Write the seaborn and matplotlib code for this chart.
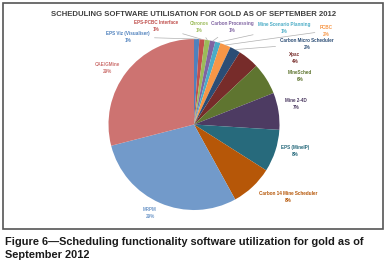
import matplotlib
matplotlib.use("Agg")
from matplotlib import pyplot as plt
from matplotlib.patches import Rectangle
import numpy as np
import seaborn as sns

# data (clockwise from 12 o'clock)
software = ["EPS Viz (Visualiser)", "EPS-PCBC Interface", "Chronos", "Carbon Processing",
            "Mine Scenario Planning", "PCBC", "Carbon Micro Scheduler", "Xpac", "MineSched",
            "Mine 2-4D", "EPS (MineIP)", "Carbon 14 Mine Scheduler", "MRPM", "CAE/GMine"]
share = [1, 1, 1, 1, 1, 2, 2, 4, 6, 7, 8, 8, 29, 29]

colors = ["#4F81BD", "#C0504D", "#9BBB59", "#8064A2", "#4BACC6", "#F79646", "#2C4D75",
          "#772C2A", "#5F7530", "#4D3B62", "#276A7C", "#B65708", "#729ACA", "#CD7371"]

# label centres in pixels (style only)
label_px = [(128, 37), (156, 26), (199, 27), (232, 27), (284, 28), (326, 31), (307, 44),
            (295, 58), (300, 76), (296, 104), (295, 151), (288, 197), (150, 213), (107, 68)]

W, H = 389, 271
CX, CY, R = 194, 124.5, 85.5

sns.set_theme(style="white")
plt.rcParams["font.family"] = ["Liberation Sans", "DejaVu Sans"]

fig = plt.figure(figsize=(W / 100, H / 100), dpi=100)
ax = fig.add_axes([0, 0, 1, 1])

wedges, _ = ax.pie(share, colors=colors, startangle=90, counterclock=False,
                   radius=1, center=(0, 0), frame=True,
                   wedgeprops=dict(linewidth=0))
ax.set_xlim(-CX / R, (W - CX) / R)
ax.set_ylim(-(H - CY) / R, CY / R)
ax.set_aspect("auto")
ax.axis("off")

for w, name, val, col, (px, py) in zip(wedges, software, share, colors, label_px):
    lx, ly = (px - CX) / R, (CY - py) / R
    ang = np.deg2rad((w.theta1 + w.theta2) / 2)
    txt = f"{name}\n{val}%"
    if val <= 2:
        ax.annotate(txt, xy=(np.cos(ang), np.sin(ang)), xytext=(lx, ly),
                    ha="center", va="center", fontsize=3.3, fontweight="bold", color=col,
                    linespacing=1.6,
                    arrowprops=dict(arrowstyle="-", color="#b0b0b0", lw=0.5,
                                    shrinkA=1, shrinkB=0))
    else:
        ax.text(lx, ly, txt, ha="center", va="center", fontsize=3.3, fontweight="bold",
                color=col, linespacing=1.6)

# chart frame
fig.add_artist(Rectangle((3 / W, 1 - 229 / H), 380 / W, 226 / H, transform=fig.transFigure,
                         fill=False, edgecolor="#555555", lw=1.2))

fig.text(194 / W, 1 - 15 / H, "SCHEDULING SOFTWARE UTILISATION FOR GOLD AS OF SEPTEMBER 2012",
         ha="center", va="center", fontsize=5.6, fontweight="bold", color="#404040")

cap_font = ["Liberation Sans Narrow", "Liberation Sans", "DejaVu Sans"]
fig.text(5 / W, 1 - 245 / H,
         "Figure 6\u2014Scheduling functionality software utilization for gold as of",
         ha="left", va="baseline", fontsize=7.9, fontweight="bold", color="#1a1a1a",
         family=cap_font)
fig.text(5 / W, 1 - 258 / H, "September 2012",
         ha="left", va="baseline", fontsize=7.9, fontweight="bold", color="#1a1a1a",
         family=cap_font)

fig.savefig("out.png", dpi=100)
